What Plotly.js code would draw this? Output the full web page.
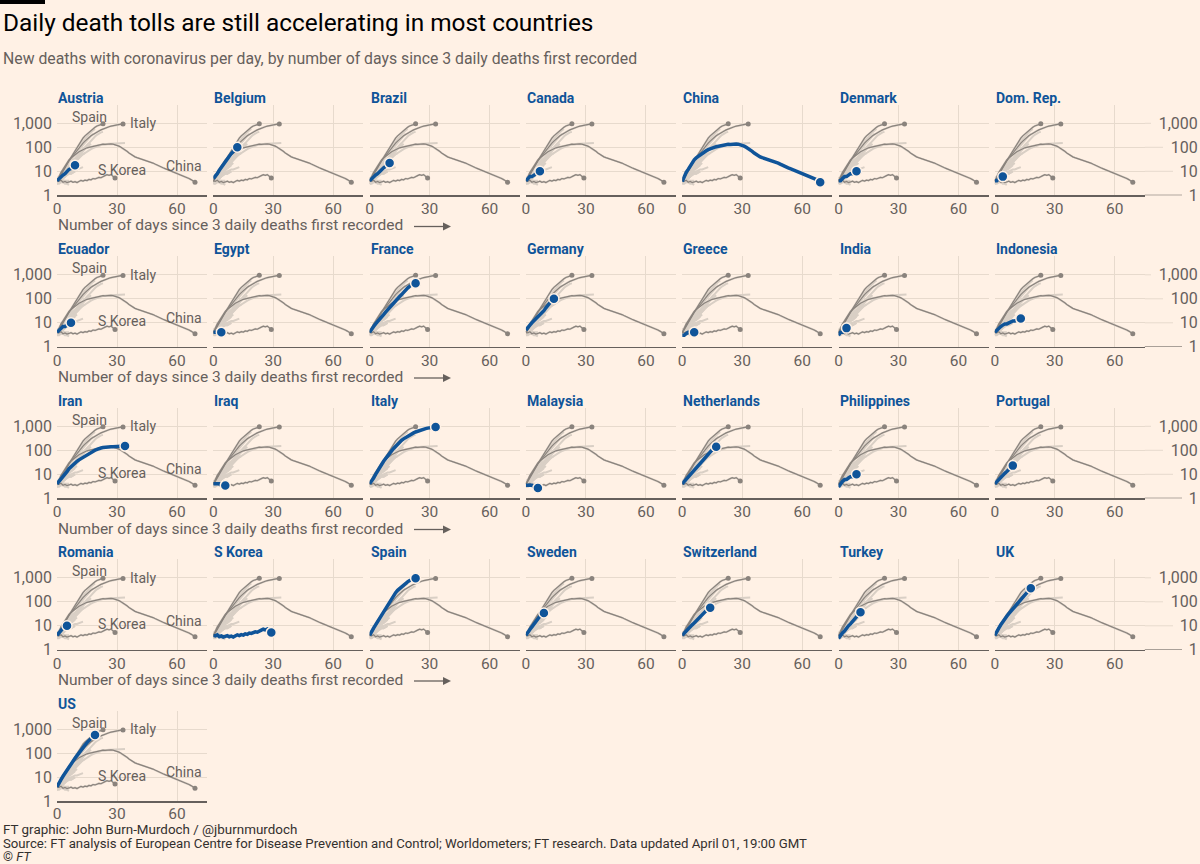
<!DOCTYPE html>
<html>
<head>
<meta charset="utf-8">
<script src="https://cdn.plot.ly/plotly-3.0.1.min.js"></script>
<style>
  html, body { margin: 0; padding: 0; background: #fff1e5; }
  #chart { width: 1200px; height: 864px; }
</style>
</head>
<body>
<div id="chart"></div>
<script>
// ---------------- DATA (new deaths per day, index = days since 3 daily deaths) ----------------
const countries = ['Austria','Belgium','Brazil','Canada','China','Denmark','Dom. Rep.',
  'Ecuador','Egypt','France','Germany','Greece','India','Indonesia',
  'Iran','Iraq','Italy','Malaysia','Netherlands','Philippines','Portugal',
  'Romania','S Korea','Spain','Sweden','Switzerland','Turkey','UK','US'];
const referenceCountries = ['Spain','Italy','China','S Korea'];

const austria = [4, 5, 6, 7, 8, 10, 12, 13, 15, 18];
const belgium = [5, 6, 8, 11, 14, 18, 24, 32, 42, 55, 70, 85, 100];
const brazil = [4, 5, 6, 7, 8, 10, 12, 14, 16, 19, 22];
const canada = [4, 5, 6, 6, 7, 8, 9, 10];
const china = [3.7, 6, 9, 12, 17, 24, 30, 36, 42, 50, 58, 65, 72, 80, 88, 95, 100, 105, 110, 115,
  120, 125, 130, 135, 132, 136, 134, 138, 135, 130, 122, 112, 100, 90, 78, 68, 58, 50, 44, 40,
  37, 35, 33, 31, 29.5, 28, 26, 24, 22, 20, 18, 16, 15, 14, 13, 12, 11.2, 10.5, 9.8, 9.2,
  8.6, 8, 7.4, 6.8, 6.2, 5.6, 5, 4.5, 4, 3.5];
const denmark = [4, 4, 5, 6, 6, 7, 8, 8, 9, 10];
const domRep = [4, 4, 5, 5, 6];
const ecuador = [4, 5, 6, 7, 7, 8, 9, 10];
const egypt = [4, 4, 4, 4, 4];
const france = [4, 5, 7, 9, 11, 14, 18, 22, 28, 35, 45, 55, 70, 85, 105, 125, 150, 190, 230, 280, 330, 380, 420, 440];
const germany = [5, 6, 8, 10, 12, 14, 17, 20, 25, 32, 42, 55, 68, 85, 100];
const greece = [3, 3, 3.5, 4, 4, 4, 4];
const india = [3, 4, 4, 5, 6];
const indonesia = [4, 5, 6, 7, 8, 9, 9, 10, 11, 12, 12, 13, 14, 15];
const iran = [4, 5, 6, 8, 10, 13, 17, 21, 25, 30, 35, 40, 45, 52, 60, 68, 76, 84, 92, 100,
  110, 120, 125, 130, 135, 138, 140, 140, 140, 140, 140, 142, 143, 145, 150];
const iraq = [4, 4, 4, 4, 3.5, 3.5, 3.4];
const italy = [4, 5, 7, 10, 14, 20, 27, 35, 45, 60, 75, 95, 120, 150, 180, 220, 260, 300, 340, 390,
  430, 480, 530, 580, 630, 680, 720, 760, 800, 840, 870, 900, 920, 940];
const malaysia = [3.5, 3.5, 3.5, 3.5, 3, 3, 2.7];
const netherlands = [4, 5, 6, 8, 10, 12, 15, 19, 24, 30, 38, 47, 58, 72, 88, 105, 120, 140];
const philippines = [3, 4, 5, 6, 6, 7, 8, 8, 9, 10];
const portugal = [4, 5, 6, 7, 9, 11, 13, 16, 19, 23];
const romania = [4, 5, 7, 8, 9, 10];
const sKorea = [4, 3.8, 4.2, 3.5, 3.8, 3.4, 3.6, 3.9, 3.5, 3.7, 3.4, 3.8, 4.2, 3.9, 4.3, 4.1, 4.6, 4.4, 5.0, 4.8,
  5.3, 5.6, 5.4, 6.2, 6.6, 7.2, 6.8, 7.3, 6.0, 5.3];
const spain = [4, 6, 8, 11, 15, 20, 28, 38, 52, 70, 100, 140, 190, 240, 300, 360, 430, 520, 600, 680, 770, 840, 900, 950];
const sweden = [4, 5, 7, 9, 12, 15, 20, 25, 30, 34];
const switzerland = [4, 5, 6, 7, 9, 11, 13, 16, 20, 25, 30, 37, 45, 52, 57];
const turkey = [3, 4, 5, 6, 8, 10, 12, 15, 18, 22, 28, 37];
const uk = [4, 6, 8, 11, 15, 20, 25, 32, 40, 50, 65, 80, 100, 120, 160, 200, 260, 320, 370];
const us = [4, 6, 8, 11, 15, 20, 27, 36, 48, 62, 80, 100, 130, 170, 220, 280, 350, 430, 500, 580];

const dayTicks = [0, 30, 60];
const dayTickText = ['0', '30', '60'];
const deathTicks = [1, 10, 100, 1000];
const deathTickText = ['1', '10', '100', '1,000'];

const titleText = 'Daily death tolls are still accelerating in most countries';
const subtitleText = 'New deaths with coronavirus per day, by number of days since 3 daily deaths first recorded';
const xAxisText = 'Number of days since 3 daily deaths first recorded';
const footerLines = ['FT graphic: John Burn-Murdoch / @jburnmurdoch',
  'Source: FT analysis of European Centre for Disease Prevention and Control; Worldometers; FT research. Data updated April 01, 19:00 GMT',
  '© <i>FT</i>'];

const seriesByCountry = {
  'Austria': austria, 'Belgium': belgium, 'Brazil': brazil, 'Canada': canada, 'China': china,
  'Denmark': denmark, 'Dom. Rep.': domRep, 'Ecuador': ecuador, 'Egypt': egypt, 'France': france,
  'Germany': germany, 'Greece': greece, 'India': india, 'Indonesia': indonesia, 'Iran': iran,
  'Iraq': iraq, 'Italy': italy, 'Malaysia': malaysia, 'Netherlands': netherlands,
  'Philippines': philippines, 'Portugal': portugal, 'Romania': romania, 'S Korea': sKorea,
  'Spain': spain, 'Sweden': sweden, 'Switzerland': switzerland, 'Turkey': turkey, 'UK': uk, 'US': us
};

// ---------------- STYLE / GEOMETRY ----------------
const W = 1200, H = 864;
const FONT = 'Roboto, "Open Sans", sans-serif';
const BG = '#fff1e5';
const BLUE = '#0f5499';
const DARK = '#8a837d';
const LIGHT = '#d9cfc5';
const GRID = '#e7dacd';
const AXIS = '#66605c';
const TEXT = '#66605c';

const colX0 = 57, colStep = 156.3, panelW = 150;
const rowBase0 = 195.3, rowStep = 151.5, panelH = 90.5, decadePx = 24;
const yTop = panelH / decadePx; // log10 range top
const NCOLS = 7;

const px = x => x / W;
const py = y => 1 - y / H;

const traces = [];
const layout = {
  width: W, height: H,
  margin: {l: 0, r: 0, t: 0, b: 0},
  paper_bgcolor: BG, plot_bgcolor: 'rgba(0,0,0,0)',
  showlegend: false,
  font: {family: FONT, color: TEXT},
  annotations: [], shapes: [],
  hovermode: false
};

function seriesXY(names) {
  const xs = [], ys = [];
  names.forEach(n => {
    seriesByCountry[n].forEach((v, d) => { xs.push(d); ys.push(v); });
    xs.push(null); ys.push(null);
  });
  return {xs, ys};
}

countries.forEach((country, i) => {
  const c = i % NCOLS, r = Math.floor(i / NCOLS);
  const n = i + 1;
  const xa = 'x' + (n > 1 ? n : ''), ya = 'y' + (n > 1 ? n : '');
  const x0 = colX0 + c * colStep;
  const yBase = rowBase0 + r * rowStep;

  layout['xaxis' + (n > 1 ? n : '')] = {
    domain: [px(x0), px(x0 + panelW)], range: [0, 75], anchor: ya,
    tickvals: dayTicks, ticktext: dayTickText, ticks: '', ticklabelstandoff: r === 4 ? -2 : -1,
    showgrid: true, gridcolor: GRID, gridwidth: 1, zeroline: false,
    showline: true, linecolor: AXIS, linewidth: 1.2,
    tickfont: {size: 15.5, color: TEXT, family: FONT}, fixedrange: true
  };
  layout['yaxis' + (n > 1 ? n : '')] = {
    domain: [py(yBase), py(yBase - panelH)], range: [0, yTop], type: 'log', anchor: xa,
    tickvals: deathTicks, ticktext: deathTickText, ticks: '',
    showgrid: true, gridcolor: GRID, gridwidth: 1, zeroline: false, showline: false,
    showticklabels: c === 0, ticklabelstandoff: 4,
    tickfont: {size: 16, color: TEXT, family: FONT}, fixedrange: true
  };

  // light grey: all countries
  const all = seriesXY(countries);
  traces.push({x: all.xs, y: all.ys, xaxis: xa, yaxis: ya, mode: 'lines',
    line: {color: LIGHT, width: 2}, hoverinfo: 'skip', connectgaps: false});

  // dark grey references
  const refs = referenceCountries.filter(rc => rc !== country);
  const rd = seriesXY(refs);
  traces.push({x: rd.xs, y: rd.ys, xaxis: xa, yaxis: ya, mode: 'lines',
    line: {color: DARK, width: 1.2}, hoverinfo: 'skip', connectgaps: false});
  traces.push({
    x: refs.map(rc => seriesByCountry[rc].length - 1),
    y: refs.map(rc => seriesByCountry[rc][seriesByCountry[rc].length - 1]),
    xaxis: xa, yaxis: ya, mode: 'markers', marker: {color: DARK, size: 5}, hoverinfo: 'skip'});

  // highlighted country
  const s = seriesByCountry[country];
  traces.push({x: s.map((v, d) => d), y: s, xaxis: xa, yaxis: ya, mode: 'lines',
    line: {color: BLUE, width: 3.5}, hoverinfo: 'skip'});
  traces.push({x: [s.length - 1], y: [s[s.length - 1]], xaxis: xa, yaxis: ya, mode: 'markers',
    marker: {color: BLUE, size: 10, line: {color: BG, width: 1.5}}, hoverinfo: 'skip'});

  // panel title
  layout.annotations.push({text: '<b>' + country + '</b>', xref: 'paper', yref: 'paper',
    x: px(x0 - 1), y: py(yBase - 97.5), xanchor: 'left', yanchor: 'middle', showarrow: false,
    font: {size: 14, color: BLUE, family: FONT}});

  if (c === 0) {
    // reference labels
    const lab = [
      ['Spain', 16, 3.27, 'center'],
      ['Italy', 35.5, 3.0, 'left'],
      ['S Korea', 32.5, 1.075, 'center'],
      ['China', 63.3, 1.21, 'center']
    ];
    lab.forEach(([t, x, y, anc]) => {
      layout.annotations.push({text: t, xref: xa, yref: ya, x: x, y: y, xanchor: anc, yanchor: 'middle',
        showarrow: false, font: {size: 14, color: TEXT, family: FONT}});
    });
    if (r < 4) {
      const yT = yBase + 30.2;
      layout.annotations.push({text: xAxisText, xref: 'paper', yref: 'paper', x: px(x0 - 1), y: py(yT),
        xanchor: 'left', yanchor: 'middle', showarrow: false, font: {size: 15.5, color: TEXT, family: FONT}});
      layout.shapes.push({type: 'line', xref: 'paper', yref: 'paper', x0: px(414), x1: px(445),
        y0: py(yT + 1), y1: py(yT + 1), line: {color: AXIS, width: 1.3}});
      layout.shapes.push({type: 'path', xref: 'paper', yref: 'paper',
        path: `M ${px(443)} ${py(yT - 3)} L ${px(451)} ${py(yT + 1)} L ${px(443)} ${py(yT + 5)} Z`,
        fillcolor: AXIS, line: {width: 0}});
    }
  }

  if (c === NCOLS - 1) {
    // right-hand labels, right aligned at the page edge
    const extra = 30 + r;
    layout['yaxis' + extra] = {
      domain: [py(yBase), py(yBase - panelH)], range: [0, yTop], type: 'log',
      overlaying: ya, anchor: 'free', position: 0.999, side: 'left',
      tickvals: deathTicks, ticktext: deathTickText, ticks: '', ticklabelstandoff: 1,
      showgrid: false, zeroline: false, showline: false,
      tickfont: {size: 16, color: TEXT, family: FONT}, fixedrange: true
    };
    traces.push({x: [null], y: [null], xaxis: xa, yaxis: 'y' + extra, mode: 'lines', hoverinfo: 'skip'});
    // gridlines extended toward the labels
    const widths = [10, 19, 29, 41];
    deathTicks.forEach((v, k) => {
      layout.shapes.push({type: 'line', xref: 'paper', yref: ya,
        x0: px(x0 + panelW), x1: px(1197 - widths[k] - 5), y0: v, y1: v,
        line: {color: k === 0 ? AXIS : GRID, width: k === 0 ? 1.2 : 1}, layer: 'below'});
    });
  }
});

// title / subtitle / footer / top bar
layout.shapes.push({type: 'rect', xref: 'paper', yref: 'paper', x0: 0, x1: px(45), y0: py(4), y1: 1,
  fillcolor: '#000000', line: {width: 0}});
layout.annotations.push({text: titleText, xref: 'paper', yref: 'paper', x: px(1), y: py(23),
  xanchor: 'left', yanchor: 'middle', showarrow: false, font: {size: 24.4, color: '#000000', family: FONT}});
layout.annotations.push({text: subtitleText, xref: 'paper', yref: 'paper', x: px(1), y: py(59),
  xanchor: 'left', yanchor: 'middle', showarrow: false, font: {size: 15.8, color: TEXT, family: FONT}});
const footY = [829, 843.5, 856.5];
const footSize = [13.4, 13.2, 12.8];
footerLines.forEach((t, k) => {
  layout.annotations.push({text: t, xref: 'paper', yref: 'paper', x: px(1), y: py(footY[k]),
    xanchor: 'left', yanchor: 'middle', showarrow: false, font: {size: footSize[k], color: '#33302e', family: FONT}});
});

Plotly.newPlot('chart', traces, layout, {staticPlot: true, displayModeBar: false});
</script>
</body>
</html>
